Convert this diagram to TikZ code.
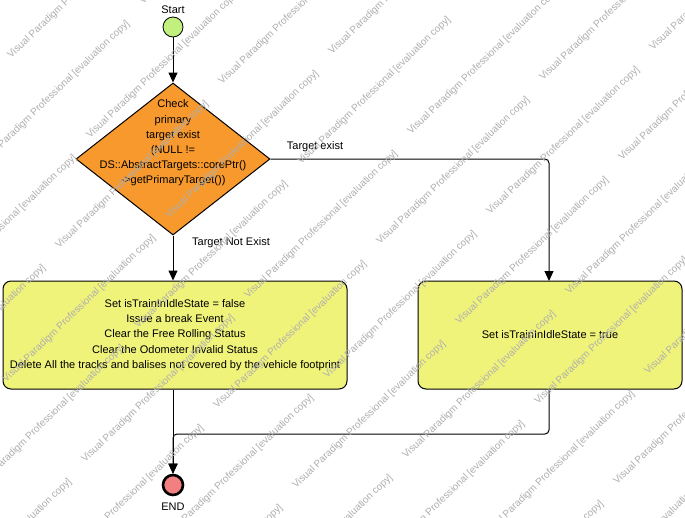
\documentclass[tikz,border=0pt]{standalone}
\usepackage{fontspec}
\setmainfont{Liberation Sans}
\usetikzlibrary{shapes.geometric,arrows.meta}
\definecolor{startgreen}{RGB}{194,240,126}
\definecolor{decorange}{RGB}{247,153,44}
\definecolor{actyellow}{RGB}{240,243,122}
\definecolor{endred}{RGB}{242,128,128}
\definecolor{wmgray}{RGB}{175,175,175}
\tikzset{
  x=1pt,y=-1pt,
  every node/.style={font=\fontsize{11}{15.2}\selectfont, inner sep=0pt},
  arr/.style={draw=black, line width=1pt, -{Triangle[length=10pt,width=9pt]}},
  actbox/.style={draw=black, line width=1pt, fill=actyellow, rounded corners=8pt, align=center},
  lbl/.style={font=\fontsize{11}{13}\selectfont},
  wm/.style={font=\fontsize{10}{12}\selectfont, text=wmgray, rotate=44, anchor=base west},
}
\newcommand{\wmtext}{Visual Paradigm Professional [evaluation copy]}
\newcommand{\wmput}[3]{%
  \pgfmathparse{((#1<690)&&(#2>-5)&&(#1+150>-5)&&(#2-145<522))?1:0}%
  \ifnum\pgfmathresult>0 \node[wm] (#3) at (#1,#2) {\wmtext};\fi}
\begin{document}
\begin{tikzpicture}
\useasboundingbox (0,0) rectangle (685,517);
\fill[white] (0,0) rectangle (685,517);

% start
\node[circle, draw=black, line width=0.8pt, fill=startgreen, minimum size=20pt] (start) at (173,27) {};
\node[lbl] (startlbl) at (173,10) {Start};

% decision
\node[diamond, draw=black, line width=1pt, fill=decorange, minimum width=194pt, minimum height=152pt] (dec) at (173,159) {};
\node[align=center] (dectext) at (173,143) {Check\\primary\\target exist\\(NULL !=\\DS::AbstractTargets::corePtr()\\->getPrimaryTarget())};

% actions
\node[actbox, minimum width=344pt, minimum height=108pt] (lbox) at (175,335) {Set isTrainInIdleState = false\\Issue a break Event\\Clear the Free Rolling Status\\Clear the Odometer Invalid Status\\Delete All the tracks and balises not covered by the vehicle footprint};
\node[actbox, minimum width=264pt, minimum height=108pt] (rbox) at (550,335) {Set isTrainInIdleState = true};

% end
\node[circle, draw=black, line width=2.6pt, fill=endred, minimum size=20pt] (endn) at (173,485) {};
\node[lbl] (endlbl) at (173,507) {END};

% connectors
\draw[arr] (start) -- (dec.north);
\draw[arr] (dec.south) -- (dec.south |- lbox.north);
\draw[arr, rounded corners=4pt] (dec.east) -| (549,281);
\coordinate (join) at (173,434);
\draw[arr] (dec.south |- lbox.south) -- (endn.north);
\draw[arr, rounded corners=4pt] (549,389) |- (join) -- (endn.north);

\node[lbl] (lblexist) at (315,147) {Target exist};
\node[lbl] (lblnot) at (231,243) {Target Not Exist};

% watermark
\begin{scope}
\clip (0,0) rectangle (685,517);
\foreach \m in {-4,...,4}{
  \foreach \r in {-5,...,8}{
    \pgfmathsetmacro{\wx}{301+242*\m+79*\r}
    \pgfmathsetmacro{\wy}{165-84*\m+80*\r}
    \pgfmathsetmacro{\vx}{\wx+110}
    \pgfmathsetmacro{\vy}{\wy-30}
    \wmput{\wx}{\wy}{wma\m r\r}
    \wmput{\vx}{\vy}{wmb\m r\r}
  }
}
\end{scope}
\end{tikzpicture}
\end{document}
